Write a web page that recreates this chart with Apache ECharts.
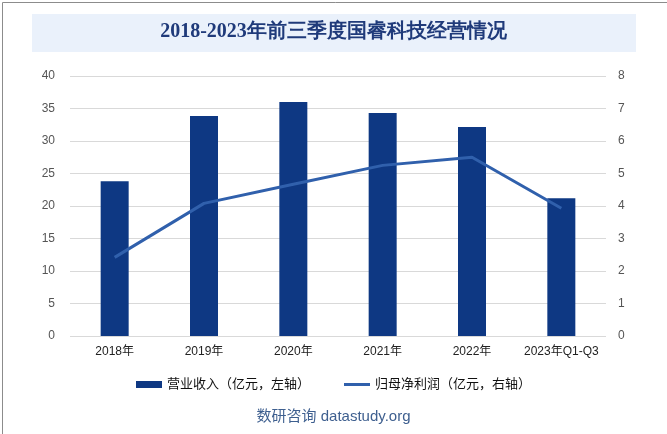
<!DOCTYPE html>
<html><head><meta charset="utf-8">
<script src="https://cdn.jsdelivr.net/npm/echarts@6/dist/echarts.min.js"></script>
<style>
html,body{margin:0;padding:0;background:#fff;}
#c{width:667px;height:434px;}
</style></head>
<body><div id="c"></div>
<script>
const categories = ['2018年','2019年','2020年','2021年','2022年','2023年Q1-Q3'];
const revenue = [23.8, 33.85, 36.0, 34.3, 32.15, 21.2];
const netProfit = [2.42, 4.08, 4.67, 5.25, 5.5, 3.93];
const leftTicks = [0,5,10,15,20,25,30,35,40];
const rightTicks = [0,1,2,3,4,5,6,7,8];

const SANS = 'Liberation Sans, Noto Sans CJK SC, sans-serif';
const chart = echarts.init(document.getElementById('c'), null, {renderer:'canvas'});
chart.setOption({
  animation:false,
  backgroundColor:'#fff',
  graphic:[
    {type:'rect', left:0, top:0, shape:{x:0.5, y:0.5, width:666, height:433}, style:{fill:'none', stroke:'#8c8c8c', lineWidth:1}, z:10},
    {type:'rect', left:32, top:14, shape:{width:604, height:38}, style:{fill:'#EAF1FB'}, z:-1},
    {type:'text', left:'center', top:22, style:{text:'2018-2023年前三季度国睿科技经营情况', font:'bold 20px serif', fill:'#1F3A7A'}},
    {type:'text', left:'center', top:409, style:{text:'数研咨询 datastudy.org', font:'15px Liberation Sans, Noto Sans CJK SC, sans-serif', fill:'#3E5F8F'}}
  ],
  legend:{
    top:373, left:'center', itemGap:34, itemWidth:26, itemHeight:7,
    textStyle:{fontSize:13, color:'#111', fontFamily:SANS},
    data:[{name:'营业收入（亿元，左轴）', icon:'rect'}, {name:'归母净利润（亿元，右轴）', icon:'path://M0,0 L26,0 L26,3 L0,3 Z'}]
  },
  grid:{left:70, right:61, top:76, bottom:98},
  xAxis:{
    type:'category', data:categories,
    axisLine:{show:false}, axisTick:{show:false},
    axisLabel:{color:'#222', fontSize:12, margin:10, interval:0, fontFamily:SANS}
  },
  yAxis:[
    {type:'value', min:0, max:40, interval:5,
     axisLine:{show:false}, axisTick:{show:false},
     axisLabel:{color:'#555', fontSize:12, margin:15, fontFamily:SANS},
     splitLine:{lineStyle:{color:'#D9D9D9', width:1}}},
    {type:'value', min:0, max:8, interval:1,
     axisLine:{show:false}, axisTick:{show:false},
     axisLabel:{color:'#555', fontSize:12, margin:12, fontFamily:SANS},
     splitLine:{show:false}}
  ],
  series:[
    {name:'营业收入（亿元，左轴）', type:'bar', data:revenue, barWidth:28, itemStyle:{color:'#0E3883'}},
    {name:'归母净利润（亿元，右轴）', type:'line', yAxisIndex:1, data:netProfit, symbol:'none',
     lineStyle:{color:'#3060AC', width:3}, itemStyle:{color:'#3060AC'}}
  ]
});
</script></body></html>
